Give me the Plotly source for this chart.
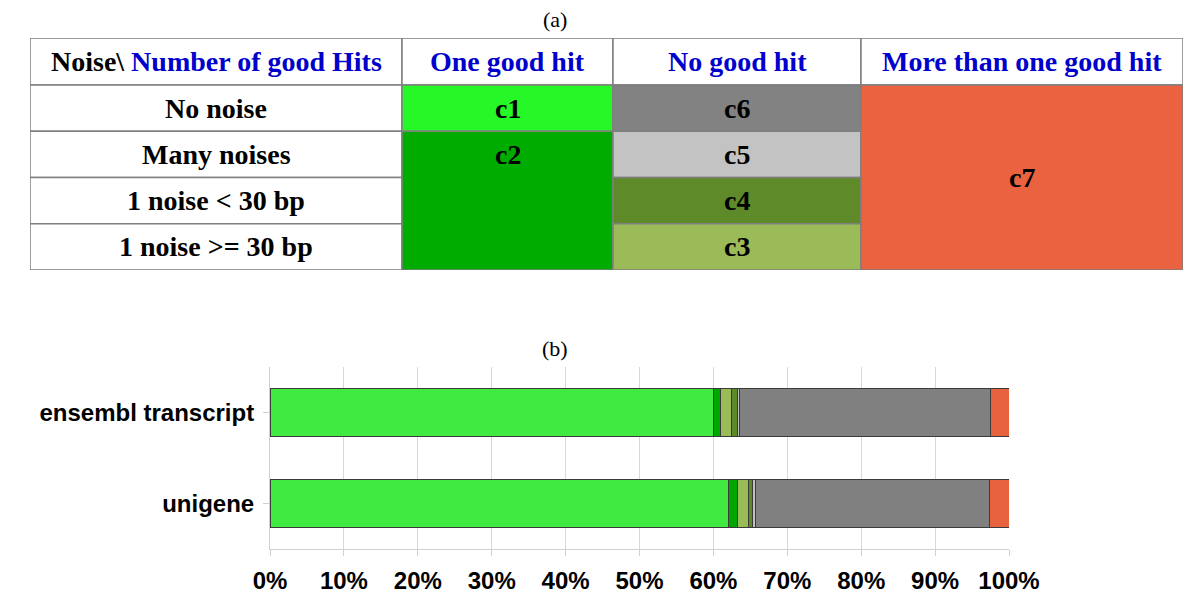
import plotly.graph_objects as go

# ---------------- data ----------------
datasets = ["ensembl transcript", "unigene"]
classes = ["c1", "c2", "c3", "c4", "c5", "c6", "c7"]
# percentage of each class (stacked, sums to 100)
c1 = [60.0, 62.0]
c2 = [0.9, 1.2]
c3 = [1.6, 1.5]
c4 = [0.7, 0.6]
c5 = [0.3, 0.4]
c6 = [34.0, 31.7]
c7 = [2.5, 2.6]
series = [c1, c2, c3, c4, c5, c6, c7]
x_ticks = [0, 10, 20, 30, 40, 50, 60, 70, 80, 90, 100]
x_tick_labels = ["0%", "10%", "20%", "30%", "40%", "50%", "60%", "70%", "80%", "90%", "100%"]

# table (a)
corner_black = "Noise\\ "
corner_blue = "Number of good Hits"
col_labels = ["One good hit", "No good hit", "More than one good hit"]
row_labels = ["No noise", "Many noises", "1 noise < 30 bp", "1 noise >= 30 bp"]
# cell: label, column index (0 = first hit column), first row, row span
cell_labels = ["c1", "c2", "c6", "c5", "c4", "c3", "c7"]
cell_cols = [0, 0, 1, 1, 1, 1, 2]
cell_rows = [0, 1, 0, 1, 2, 3, 0]
cell_spans = [1, 3, 1, 1, 1, 1, 4]

# ---------------- styles ----------------
bar_colors = {"c1": "#40EA40", "c2": "#00A600", "c3": "#9BBB59", "c4": "#5C8A28",
              "c5": "#C0C0C0", "c6": "#808080", "c7": "#E8623F"}
table_colors = {"c1": "#26F726", "c2": "#00AC00", "c3": "#9BBB59", "c4": "#5E8A2A",
                "c5": "#C3C3C3", "c6": "#828282", "c7": "#EA623F"}
col_widths = [372, 211, 248, 322]   # label column + 3 hit columns
row_heights = [47, 46.25, 46.25, 46.25, 46.25]
serif = "Liberation Serif, Times New Roman, serif"
sans = "Liberation Sans, Arial, sans-serif"

# the page body has an 8px margin: size the figure so it fits the window exactly
OFF = 8
W, H = 1200 - 2 * OFF, 612 - 2 * OFF


def px_x(p):
    return (p - OFF) / W


def px_y(p):
    return 1 - (p - OFF) / H


fig = go.Figure()

# ---------------- bar chart (b) ----------------
for name, vals in zip(classes, series):
    fig.add_trace(go.Bar(
        y=datasets, x=vals, name=name, orientation="h",
        marker=dict(color=bar_colors[name], line=dict(color="#3a3a3a", width=1)),
        showlegend=False, hoverinfo="x+name",
        xaxis="x", yaxis="y",
    ))

fig.update_layout(
    barmode="stack",
    bargap=0.48,
    xaxis=dict(
        domain=[px_x(270), px_x(1009)], range=[0, 100],
        tickvals=x_ticks, ticktext=x_tick_labels, tickangle=0,
        showgrid=True, gridcolor="#D8D8D8", gridwidth=1,
        showline=True, linecolor="#D0D0D0", linewidth=1,
        ticks="outside", ticklen=6, tickcolor="#D0D0D0",
        tickfont=dict(family=sans, size=24, color="black", weight="bold"),
        ticklabelstandoff=4,
        zeroline=False, fixedrange=True, anchor="y", automargin=False,
    ),
    yaxis=dict(
        domain=[px_y(549), px_y(367)],
        categoryorder="array", categoryarray=datasets[::-1],
        showline=True, linecolor="#D0D0D0", linewidth=1,
        ticks="outside", ticklen=6, tickcolor="#D0D0D0",
        tickfont=dict(family=sans, size=24, color="black", weight="bold"),
        ticklabelstandoff=4,
        showgrid=False, zeroline=False, fixedrange=True, anchor="x", automargin=False,
    ),
)

# ---------------- table (a) ----------------
x_edges = [0]
for w in col_widths:
    x_edges.append(x_edges[-1] + w)
y_edges = [0]
for h in row_heights:
    y_edges.append(y_edges[-1] + h)

fig.update_layout(
    xaxis2=dict(domain=[px_x(30), px_x(1183)], range=[0, x_edges[-1]], visible=False,
                fixedrange=True, anchor="y2", automargin=False),
    yaxis2=dict(domain=[px_y(270), px_y(38)], range=[y_edges[-1], 0], visible=False,
                fixedrange=True, anchor="x2", automargin=False),
)

shapes = []
annotations = []
border = dict(color="#7F7F7F", width=1.5)
# header row cells
for j in range(4):
    shapes.append(dict(type="rect", xref="x2", yref="y2",
                       x0=x_edges[j], x1=x_edges[j + 1], y0=y_edges[0], y1=y_edges[1],
                       fillcolor="white", line=border, layer="below"))
# row label cells
for i in range(4):
    shapes.append(dict(type="rect", xref="x2", yref="y2",
                       x0=x_edges[0], x1=x_edges[1], y0=y_edges[i + 1], y1=y_edges[i + 2],
                       fillcolor="white", line=border, layer="below"))
# coloured cells
for lab, c, r, s in zip(cell_labels, cell_cols, cell_rows, cell_spans):
    shapes.append(dict(type="rect", xref="x2", yref="y2",
                       x0=x_edges[c + 1], x1=x_edges[c + 2],
                       y0=y_edges[r + 1], y1=y_edges[r + 1 + s],
                       fillcolor=table_colors[lab], line=border, layer="below"))
    # label: centred in its cell; c2 label sits in its first row
    if lab == "c7":
        ymid = (y_edges[r + 1] + y_edges[r + 1 + s]) / 2
    else:
        ymid = (y_edges[r + 1] + y_edges[r + 2]) / 2
    annotations.append(dict(xref="x2", yref="y2", x=(x_edges[c + 1] + x_edges[c + 2]) / 2,
                            y=ymid, text=lab, showarrow=False,
                            xanchor="center", yanchor="middle",
                            font=dict(family=serif, size=28, color="black", weight="bold")))

# header texts
annotations.append(dict(xref="x2", yref="y2", x=(x_edges[0] + x_edges[1]) / 2,
                        y=(y_edges[0] + y_edges[1]) / 2,
                        text="<span style='color:black'>" + corner_black + "</span>" + corner_blue,
                        showarrow=False, xanchor="center", yanchor="middle",
                        font=dict(family=serif, size=28, color="#0000CC", weight="bold")))
for j, lab in enumerate(col_labels):
    annotations.append(dict(xref="x2", yref="y2", x=(x_edges[j + 1] + x_edges[j + 2]) / 2,
                            y=(y_edges[0] + y_edges[1]) / 2, text=lab, showarrow=False,
                            xanchor="center", yanchor="middle",
                            font=dict(family=serif, size=28, color="#0000CC", weight="bold")))
for i, lab in enumerate(row_labels):
    annotations.append(dict(xref="x2", yref="y2", x=(x_edges[0] + x_edges[1]) / 2,
                            y=(y_edges[i + 1] + y_edges[i + 2]) / 2, text=lab, showarrow=False,
                            xanchor="center", yanchor="middle",
                            font=dict(family=serif, size=28, color="black", weight="bold")))

# panel titles
annotations.append(dict(xref="paper", yref="paper", x=px_x(555), y=px_y(20), text="(a)",
                        showarrow=False, xanchor="center", yanchor="middle",
                        font=dict(family=serif, size=22, color="black")))
annotations.append(dict(xref="paper", yref="paper", x=px_x(555), y=px_y(348), text="(b)",
                        showarrow=False, xanchor="center", yanchor="middle",
                        font=dict(family=serif, size=22, color="black")))

fig.update_layout(
    shapes=shapes, annotations=annotations,
    width=W, height=H, margin=dict(l=0, r=0, t=0, b=0),
    paper_bgcolor="white", plot_bgcolor="white",
)

fig.write_html("out.html")
